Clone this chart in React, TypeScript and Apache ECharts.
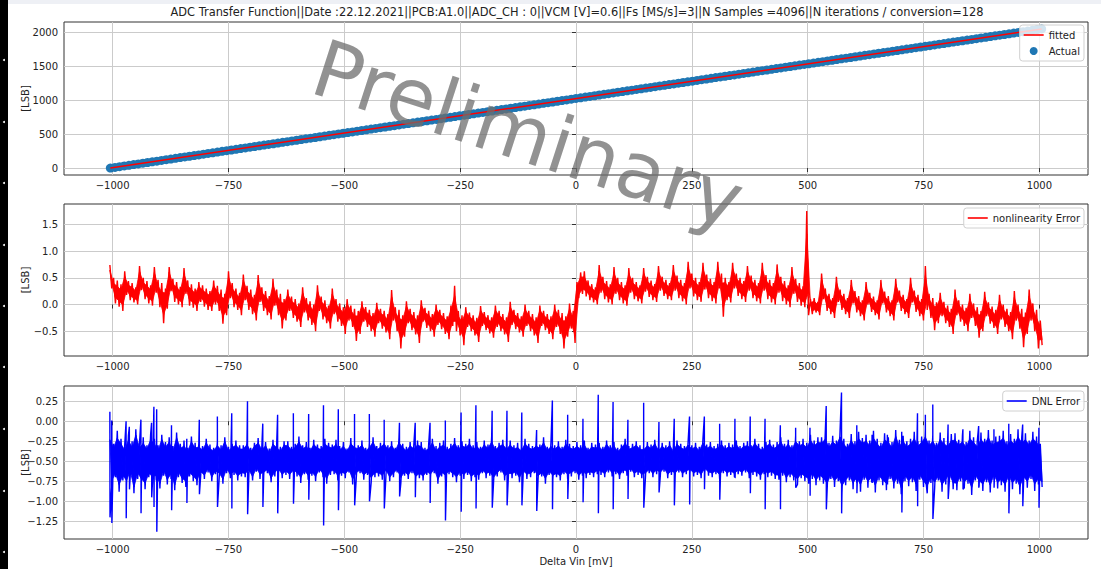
import React, { useEffect, useRef } from 'react';
import * as echarts from 'echarts';

const TITLE =
  'ADC Transfer Function||Date :22.12.2021||PCB:A1.0||ADC_CH : 0||VCM [V]=0.6||Fs [MS/s]=3||N Samples =4096||N iterations / conversion=128';

const X_TICKS = [-1000, -750, -500, -250, 0, 250, 500, 750, 1000];
const Y1_TICKS = [0, 500, 1000, 1500, 2000];
const Y2_TICKS = [-0.5, 0, 0.5, 1, 1.5];
const Y3_TICKS = [-1.25, -1, -0.75, -0.5, -0.25, 0, 0.25];

// Transfer function: measured codes sampled along Delta Vin
const ACTUAL_VIN_START = -1005;
const ACTUAL_VIN_STEP = 10.05;
const ACTUAL_CODE = [
  0, 10, 20, 31, 41, 51, 61, 72, 82, 92,
  102, 113, 123, 133, 143, 154, 164, 174, 184, 194,
  205, 215, 225, 235, 246, 256, 266, 276, 287, 297,
  307, 317, 328, 338, 348, 358, 368, 379, 389, 399,
  409, 420, 430, 440, 450, 461, 471, 481, 491, 502,
  512, 522, 532, 542, 553, 563, 573, 583, 594, 604,
  614, 624, 635, 645, 655, 665, 676, 686, 696, 706,
  716, 727, 737, 747, 757, 768, 778, 788, 798, 809,
  819, 829, 839, 850, 860, 870, 880, 890, 901, 911,
  921, 931, 942, 952, 962, 972, 983, 993, 1003, 1013,
  1024, 1034, 1044, 1054, 1064, 1075, 1085, 1095, 1105, 1116,
  1126, 1136, 1146, 1157, 1167, 1177, 1187, 1197, 1208, 1218,
  1228, 1238, 1249, 1259, 1269, 1279, 1290, 1300, 1310, 1320,
  1331, 1341, 1351, 1361, 1371, 1382, 1392, 1402, 1412, 1423,
  1433, 1443, 1453, 1464, 1474, 1484, 1494, 1505, 1515, 1525,
  1535, 1545, 1556, 1566, 1576, 1586, 1597, 1607, 1617, 1627,
  1638, 1648, 1658, 1668, 1679, 1689, 1699, 1709, 1719, 1730,
  1740, 1750, 1760, 1771, 1781, 1791, 1801, 1812, 1822, 1832,
  1842, 1853, 1863, 1873, 1883, 1893, 1904, 1914, 1924, 1934,
  1945, 1955, 1965, 1975, 1986, 1996, 2006, 2016, 2027, 2037,
  2047,
];
const FIT_VIN = [-1005, 1005];
const FIT_CODE = [0, 2047];

// Nonlinearity error: upper / lower envelope per 8 mV bin starting at -1006 mV
const BIN_START = -1006;
const BIN_STEP = 8;
const INL_HI = [
  0.74, 0.5, 0.45, 0.38, 0.62, 0.44, 0.4, 0.32, 0.72, 0.5, 0.44, 0.36, 0.7, 0.46, 0.4, 0.3,
  0.7, 0.48, 0.42, 0.33, 0.68, 0.45, 0.38, 0.3, 0.42, 0.36, 0.3, 0.25, 0.45, 0.35, 0.28, 0.2,
  0.62, 0.4, 0.3, 0.22, 0.56, 0.35, 0.28, 0.18, 0.55, 0.32, 0.25, 0.16, 0.48, 0.28, 0.2, 0.1,
  0.28, 0.15, 0.1, 0.02, 0.32, 0.12, 0.06, 0, 0.36, 0.15, 0.08, -0.02, 0.3, 0.1, 0.02, -0.05,
  0.1, -0.02, -0.08, -0.12, 0.06, -0.05, -0.1, -0.16, 0.03, -0.08, -0.12, -0.18, 0.27, -0.05, -0.1, -0.2,
  0.06, -0.08, -0.14, -0.2, 0.08, -0.06, -0.12, -0.18, 0, -0.1, -0.16, -0.22, -0.02, 0.35, -0.12, -0.2,
  -0.05, -0.15, -0.2, -0.25, -0.03, -0.14, -0.2, -0.24, -0.02, -0.12, -0.18, -0.24, 0.05, -0.1, -0.16, -0.22,
  0, -0.12, -0.18, -0.24, -0.02, -0.12, -0.18, -0.22, 0, -0.1, -0.16, -0.22, 0.02, -0.12, 0.42, 0.6,
  0.62, 0.45, 0.38, 0.32, 0.74, 0.52, 0.44, 0.38, 0.7, 0.5, 0.42, 0.36, 0.68, 0.5, 0.42, 0.36,
  0.68, 0.52, 0.45, 0.38, 0.72, 0.52, 0.46, 0.4, 0.74, 0.54, 0.46, 0.4, 0.8, 0.58, 0.5, 0.42,
  0.78, 0.56, 0.48, 0.42, 0.8, 0.58, 0.5, 0.42, 0.78, 0.58, 0.5, 0.44, 0.72, 0.54, 0.46, 0.4,
  0.78, 0.55, 0.46, 0.4, 0.75, 0.52, 0.44, 0.36, 0.7, 0.48, 0.4, 0.34, 1.75, 0.1, 0.12, 0.05,
  0.58, 0.3, 0.2, 0.12, 0.52, 0.28, 0.2, 0.12, 0.46, 0.25, 0.16, 0.08, 0.42, 0.22, 0.15, 0.08,
  0.46, 0.24, 0.16, 0.08, 0.48, 0.26, 0.18, 0.1, 0.5, 0.26, 0.18, 0.1, 0.72, 0.2, 0.12, 0.04,
  0.22, 0.05, -0.02, -0.08, 0.28, 0.08, 0, -0.06, 0.2, 0.02, -0.05, -0.12, 0.24, 0.04, -0.04, -0.1,
  0.18, 0, -0.08, -0.14, 0.25, 0, -0.08, -0.15, 0.28, 0.02, -0.1, -0.3,
];
const INL_LO = [
  0.3, 0.02, -0.04, -0.12, 0.18, 0.08, 0.04, 0, 0.27, 0.1, 0.02, -0.02, 0.22, -0.05, -0.35, -0.08,
  0.25, 0.05, 0, -0.05, 0.2, -0.02, -0.06, -0.12, 0.05, -0.04, -0.1, -0.12, 0, -0.12, -0.36, -0.2,
  0.12, -0.05, -0.1, -0.2, 0.08, -0.1, -0.18, -0.3, 0.05, -0.12, -0.2, -0.28, -0.02, -0.2, -0.45, -0.3,
  -0.12, -0.25, -0.32, -0.42, -0.15, -0.3, -0.38, -0.5, -0.12, -0.28, -0.35, -0.45, -0.18, -0.32, -0.4, -0.55,
  -0.3, -0.42, -0.68, -0.55, -0.32, -0.42, -0.5, -0.6, -0.35, -0.45, -0.52, -0.65, -0.3, -0.5, -0.82, -0.6,
  -0.35, -0.48, -0.56, -0.72, -0.32, -0.44, -0.5, -0.6, -0.38, -0.46, -0.55, -0.65, -0.4, -0.5, -0.58, -0.76,
  -0.42, -0.5, -0.58, -0.7, -0.4, -0.48, -0.54, -0.62, -0.42, -0.5, -0.56, -0.7, -0.38, -0.46, -0.52, -0.6,
  -0.4, -0.5, -0.58, -0.72, -0.4, -0.48, -0.55, -0.65, -0.42, -0.55, -0.82, -0.6, -0.45, -0.72, 0.12, 0.2,
  0.15, 0.08, 0.04, 0, 0.22, 0.1, 0.04, 0, 0.2, 0.08, 0.02, -0.02, 0.22, 0.1, 0.06, 0.02,
  0.24, 0.14, 0.08, 0.05, 0.26, 0.16, 0.1, 0.08, 0.26, 0.12, 0.06, 0, 0.3, 0.15, 0.08, 0.05,
  0.28, 0.12, 0.06, 0.02, 0.3, -0.23, 0.08, 0.04, 0.3, 0.16, 0.1, 0.05, 0.26, 0.12, 0.06, 0.02,
  0.26, 0.1, 0.04, 0, 0.22, 0.06, 0, -0.05, 0.2, 0.05, -0.02, -0.05, -0.2, -0.18, -0.15, -0.2,
  0.1, -0.12, -0.18, -0.25, 0.05, -0.1, -0.18, -0.25, 0.02, -0.15, -0.22, -0.3, 0, -0.14, -0.2, -0.28,
  0.02, -0.15, -0.22, -0.3, 0.04, -0.12, -0.18, -0.25, 0.04, -0.14, -0.22, -0.3, -0.1, -0.25, -0.48, -0.35,
  -0.22, -0.35, -0.42, -0.55, -0.2, -0.32, -0.4, -0.5, -0.25, -0.4, -0.62, -0.5, -0.22, -0.36, -0.44, -0.55,
  -0.28, -0.42, -0.5, -0.65, -0.3, -0.45, -0.8, -0.55, -0.3, -0.5, -0.82, -0.76,
];

// DNL error: core band envelope per 8 mV bin, plus the large code-transition spikes
const DNL_HI = [
  -0.15, -0.28, -0.12, -0.22, -0.3, -0.18, -0.25, -0.1, -0.27, -0.2, -0.3, -0.16,
  -0.22, -0.3, -0.17, -0.26, -0.2, -0.31, -0.14, -0.28, -0.24, -0.33, -0.19, -0.27,
  -0.27, -0.31, -0.22, -0.29, -0.33, -0.25, -0.3, -0.2, -0.32, -0.28, -0.24, -0.3,
  -0.3, -0.24, -0.33, -0.27, -0.21, -0.31, -0.26, -0.34, -0.23, -0.29, -0.32, -0.25,
  -0.25, -0.32, -0.28, -0.19, -0.3, -0.26, -0.33, -0.23, -0.29, -0.31, -0.22, -0.27,
  -0.29, -0.23, -0.31, -0.26, -0.34, -0.21, -0.28, -0.3, -0.24, -0.33, -0.27, -0.2,
  -0.31, -0.27, -0.23, -0.3, -0.25, -0.33, -0.2, -0.28, -0.32, -0.26, -0.29, -0.24,
  -0.26, -0.33, -0.29, -0.22, -0.31, -0.27, -0.24, -0.32, -0.28, -0.21, -0.3, -0.25,
  -0.28, -0.22, -0.3, -0.26, -0.32, -0.24, -0.29, -0.19, -0.31, -0.27, -0.23, -0.3,
  -0.24, -0.3, -0.27, -0.33, -0.22, -0.28, -0.31, -0.25, -0.29, -0.2, -0.32, -0.26,
  -0.3, -0.25, -0.32, -0.23, -0.28, -0.31, -0.26, -0.3, -0.24, -0.33, -0.27, -0.29,
  -0.27, -0.32, -0.24, -0.3, -0.26, -0.33, -0.29, -0.22, -0.31, -0.28, -0.25, -0.3,
  -0.31, -0.26, -0.29, -0.23, -0.32, -0.27, -0.3, -0.25, -0.33, -0.24, -0.28, -0.31,
  -0.25, -0.3, -0.27, -0.32, -0.22, -0.29, -0.26, -0.31, -0.28, -0.24, -0.3, -0.27,
  -0.29, -0.24, -0.31, -0.27, -0.25, -0.3, -0.22, -0.28, -0.32, -0.26, -0.23, -0.29,
  -0.26, -0.2, -0.28, -0.23, -0.3, -0.18, -0.25, -0.22, -0.27, -0.17, -0.24, -0.2,
  -0.2, -0.14, -0.27, -0.18, -0.24, -0.1, -0.22, -0.28, -0.16, -0.25, -0.13, -0.21,
  -0.17, -0.24, -0.12, -0.22, -0.27, -0.15, -0.2, -0.26, -0.11, -0.23, -0.18, -0.25,
  -0.22, -0.13, -0.25, -0.19, -0.1, -0.24, -0.17, -0.27, -0.14, -0.21, -0.26, -0.16,
  -0.15, -0.23, -0.18, -0.26, -0.12, -0.2, -0.25, -0.14, -0.22, -0.11, -0.24, -0.19,
  -0.18, -0.12, -0.25, -0.16, -0.22, -0.1, -0.2, -0.15, -0.24, -0.13, -0.19, -0.28,
];
const DNL_LO = [
  -0.82, -0.7, -0.88, -0.74, -0.8, -0.68, -0.9, -0.72, -0.78, -0.85, -0.7, -0.76,
  -0.74, -0.84, -0.68, -0.79, -0.72, -0.86, -0.7, -0.77, -0.82, -0.69, -0.75, -0.8,
  -0.68, -0.72, -0.64, -0.75, -0.66, -0.7, -0.78, -0.65, -0.71, -0.67, -0.74, -0.69,
  -0.7, -0.66, -0.74, -0.63, -0.72, -0.68, -0.65, -0.76, -0.69, -0.64, -0.71, -0.67,
  -0.72, -0.65, -0.69, -0.77, -0.66, -0.73, -0.68, -0.75, -0.64, -0.7, -0.78, -0.67,
  -0.66, -0.74, -0.68, -0.71, -0.64, -0.79, -0.69, -0.65, -0.73, -0.67, -0.76, -0.7,
  -0.69, -0.73, -0.66, -0.75, -0.7, -0.64, -0.77, -0.68, -0.72, -0.65, -0.74, -0.71,
  -0.74, -0.67, -0.71, -0.65, -0.78, -0.69, -0.73, -0.66, -0.7, -0.76, -0.68, -0.72,
  -0.67, -0.75, -0.7, -0.73, -0.65, -0.71, -0.68, -0.77, -0.69, -0.64, -0.74, -0.7,
  -0.71, -0.68, -0.76, -0.66, -0.72, -0.7, -0.65, -0.74, -0.69, -0.78, -0.67, -0.73,
  -0.7, -0.74, -0.66, -0.72, -0.69, -0.65, -0.73, -0.68, -0.71, -0.67, -0.7, -0.66,
  -0.67, -0.7, -0.64, -0.69, -0.66, -0.72, -0.65, -0.68, -0.63, -0.7, -0.67, -0.71,
  -0.69, -0.65, -0.7, -0.66, -0.68, -0.63, -0.71, -0.67, -0.69, -0.64, -0.7, -0.66,
  -0.65, -0.69, -0.67, -0.71, -0.64, -0.68, -0.7, -0.66, -0.72, -0.65, -0.69, -0.67,
  -0.7, -0.66, -0.68, -0.64, -0.71, -0.67, -0.69, -0.73, -0.66, -0.7, -0.68, -0.72,
  -0.73, -0.68, -0.76, -0.7, -0.74, -0.79, -0.71, -0.75, -0.78, -0.72, -0.8, -0.74,
  -0.78, -0.86, -0.72, -0.82, -0.75, -0.9, -0.8, -0.74, -0.85, -0.77, -0.88, -0.73,
  -0.83, -0.76, -0.89, -0.74, -0.8, -0.86, -0.72, -0.84, -0.78, -0.91, -0.75, -0.81,
  -0.76, -0.87, -0.73, -0.82, -0.9, -0.77, -0.84, -0.74, -0.88, -0.79, -0.72, -0.85,
  -0.86, -0.75, -0.83, -0.78, -0.92, -0.74, -0.81, -0.87, -0.76, -0.89, -0.73, -0.84,
  -0.8, -0.88, -0.74, -0.85, -0.78, -0.91, -0.76, -0.83, -0.72, -0.87, -0.79, -0.82,
];
const DNL_SPIKE_VIN = [
  -1006, -1002, -971, -964, -939, -916, -911, -905, -873, -840, -813, -774, -743, -709, -676, -644,
  -610, -577, -545, -513, -478, -446, -414, -381, -347, -315, -282, -248, -216, -181, -149, -117,
  -85, -51, -18, 15, 48, 80, 112, 146, 179, 212, 245, 277, 310, 343, 376, 408,
  441, 474, 505, 540, 573, 606, 639, 672, 703, 737, 754, 770, 803, 835, 869, 902,
  934, 964, 999,
];
const DNL_SPIKE_TOP = [
  0.12, 0.01, 0.0, -0.07, 0.02, -0.02, 0.18, 0.15, -0.05, -0.22, 0.02, 0.06, 0.1, 0.25, -0.03, 0.08,
  0.1, 0.09, 0.2, 0.15, 0.09, 0.09, 0.02, -0.02, -0.02, -0.02, 0.01, 0.11, 0.2, 0.13, 0.13, 0.11,
  -0.11, 0.26, 0.08, 0.03, 0.33, 0.24, 0.02, 0.23, -0.01, 0.03, 0.06, 0.06, -0.03, 0.03, 0.06, 0.03,
  -0.05, -0.08, -0.08, 0.19, 0.36, -0.05, -0.17, -0.17, -0.13, 0.1, 0.08, 0.21, -0.04, -0.1, -0.06, -0.1,
  -0.03, -0.04, -0.08,
];
const DNL_SPIKE_BOTTOM = [
  -1.2, -1.27, -1.21, -0.85, -1.15, -0.95, -1.07, -1.38, -1.11, -1.02, -0.91, -1.07, -1.09, -1.16, -1.07, -1.15,
  -1.03, -0.98, -1.3, -1.11, -1.05, -1.0, -1.09, -0.94, -0.95, -1.02, -1.24, -1.13, -1.09, -1.08, -1.05, -1.05,
  -1.12, -1.1, -0.97, -1.01, -1.15, -1.1, -0.97, -1.08, -0.89, -1.05, -1.04, -0.85, -0.98, -0.71, -0.9, -1.1,
  -1.1, -0.83, -0.93, -1.1, -1.15, -0.9, -0.77, -0.79, -1.14, -1.06, -0.7, -1.22, -0.97, -0.85, -0.83, -0.83,
  -1.15, -1.06, -1.08,
];

const FONT = '"DejaVu Sans", "Liberation Sans", sans-serif';
const TEXT = '#222';
const GRID_LINE = '#cbcbcb';
const PLOT_LEFT = 64;
const PLOT_RIGHT = 13;
const LINE_ICON = 'path://M0,0H20V1.6H0Z';

const uminus = (s: string) => s.replace('-', '\u2212');

function envelopeLine(hi: number[], lo: number[]): number[][] {
  const pts: number[][] = [];
  for (let i = 0; i < hi.length; i++) {
    const x = BIN_START + BIN_STEP * i;
    pts.push([x, hi[i]]);
    pts.push([x + BIN_STEP / 2, lo[i]]);
  }
  return pts;
}

function dnlLine(): number[][] {
  const pts = envelopeLine(DNL_HI, DNL_LO);
  for (let i = 0; i < DNL_SPIKE_VIN.length; i++) {
    pts.push([DNL_SPIKE_VIN[i], DNL_SPIKE_TOP[i]]);
    pts.push([DNL_SPIKE_VIN[i] + 0.3, DNL_SPIKE_BOTTOM[i]]);
  }
  pts.sort((a, b) => a[0] - b[0]);
  return pts;
}

// Dense core of the trace between the envelopes (inset keeps the ragged edges visible)
function bandSeries(axisIndex: number, hi: number[], lo: number[], color: string, inset: number) {
  return {
    type: 'custom',
    name: 'band' + axisIndex,
    xAxisIndex: axisIndex,
    yAxisIndex: axisIndex,
    silent: true,
    clip: true,
    data: hi.map((h, i) => [BIN_START + BIN_STEP * i, h, lo[i]]),
    encode: { x: 0, y: [1, 2] },
    renderItem: (params: any, api: any) => {
      const i = params.dataIndex;
      if (i >= hi.length - 1) return null;
      const x0 = BIN_START + BIN_STEP * i;
      const half = BIN_STEP / 2;
      const top = (k: number) => hi[k] - inset * (hi[k] - lo[k]);
      const bot = (k: number) => lo[k] + inset * (hi[k] - lo[k]);
      const pts = [
        api.coord([x0, top(i)]),
        api.coord([x0 + BIN_STEP, top(i + 1)]),
        api.coord([x0 + BIN_STEP + half, bot(i + 1)]),
        api.coord([x0 + half, bot(i)]),
      ];
      return {
        type: 'polygon',
        shape: { points: pts },
        style: { fill: color, stroke: color, lineWidth: 0.8 },
      };
    },
    z: 2,
  };
}

function xAxis(gridIndex: number, withName: boolean) {
  return {
    type: 'value',
    gridIndex,
    min: -1105,
    max: 1105,
    axisLine: { show: false },
    axisTick: { show: true, length: 4, customValues: X_TICKS, lineStyle: { color: '#333' } },
    axisLabel: {
      customValues: X_TICKS,
      formatter: (v: number) => uminus(String(v)),
      color: TEXT,
      fontFamily: FONT,
      fontSize: 10,
      margin: 5,
    },
    splitLine: { show: true, lineStyle: { color: GRID_LINE, width: 1 } },
    name: withName ? 'Delta Vin [mV]' : '',
    nameLocation: 'middle',
    nameGap: 17,
    nameMoveOverlap: false,
    nameTextStyle: { color: TEXT, fontFamily: FONT, fontSize: 10, verticalAlign: 'top' },
  };
}

function yAxis(gridIndex: number, min: number, max: number, ticks: number[], digits: number) {
  return {
    type: 'value',
    gridIndex,
    min,
    max,
    axisLine: { show: false },
    axisTick: { show: true, length: 4, customValues: ticks, lineStyle: { color: '#333' } },
    axisLabel: {
      customValues: ticks,
      formatter: (v: number) => uminus(v.toFixed(digits)),
      color: TEXT,
      fontFamily: FONT,
      fontSize: 10,
      margin: 6,
    },
    splitLine: { show: true, lineStyle: { color: GRID_LINE, width: 1 } },
    name: '[LSB]',
    nameLocation: 'middle',
    nameRotate: 90,
    nameGap: 34,
    nameMoveOverlap: false,
    nameTextStyle: { color: TEXT, fontFamily: FONT, fontSize: 10 },
  };
}

function legend(names: any[], top: number) {
  return {
    data: names,
    orient: 'vertical',
    right: 17,
    top,
    itemWidth: 20,
    itemHeight: 8,
    itemGap: 4,
    padding: [4, 4, 4, 4],
    backgroundColor: 'rgba(255,255,255,0.8)',
    borderColor: '#d0d0d0',
    borderWidth: 1,
    borderRadius: 3,
    textStyle: { color: TEXT, fontFamily: FONT, fontSize: 10, lineHeight: 12 },
  };
}

const DOT_Y = [60, 122, 183, 245, 306, 367, 429, 491, 552];

export default function App() {
  const ref = useRef<HTMLDivElement>(null);
  useEffect(() => {
    if (!ref.current) return;
    const chart = echarts.init(ref.current, null, { renderer: 'svg' });
    const actual = ACTUAL_CODE.map((c, i) => [ACTUAL_VIN_START + ACTUAL_VIN_STEP * i, c]);
    const fitted = FIT_VIN.map((v, i) => [v, FIT_CODE[i]]);
    const grids = [
      { top: 22, height: 153 },
      { top: 204, height: 152 },
      { top: 386, height: 153 },
    ].map((g) => ({
      ...g,
      left: PLOT_LEFT,
      right: PLOT_RIGHT,
      show: true,
      borderColor: '#333',
      borderWidth: 1,
      backgroundColor: '#fff',
      containLabel: false,
    }));
    chart.setOption({
      animation: false,
      backgroundColor: '#fff',
      title: {
        text: TITLE,
        left: 577,
        top: 6,
        padding: 0,
        textAlign: 'center',
        textStyle: { color: TEXT, fontFamily: FONT, fontSize: 11.4, fontWeight: 'normal' },
      },
      grid: grids,
      xAxis: [xAxis(0, false), xAxis(1, false), xAxis(2, true)],
      yAxis: [
        yAxis(0, -102, 2149, Y1_TICKS, 0),
        yAxis(1, -0.963, 1.88, Y2_TICKS, 1),
        yAxis(2, -1.47, 0.44, Y3_TICKS, 2),
      ],
      legend: [
        legend([{ name: 'fitted', icon: LINE_ICON }, { name: 'Actual', icon: 'circle' }], 25),
        legend([{ name: 'nonlinearity Error', icon: LINE_ICON }], 208),
        legend([{ name: 'DNL Error', icon: LINE_ICON }], 391),
      ],
      series: [
        {
          name: 'Actual',
          type: 'scatter',
          xAxisIndex: 0,
          yAxisIndex: 0,
          data: actual,
          symbolSize: 9,
          itemStyle: { color: '#1f77b4', opacity: 1 },
          z: 2,
        },
        {
          name: 'fitted',
          type: 'line',
          xAxisIndex: 0,
          yAxisIndex: 0,
          data: fitted,
          symbol: 'none',
          lineStyle: { color: '#ff0000', width: 1.5 },
          itemStyle: { color: '#ff0000' },
          z: 3,
        },
        bandSeries(1, INL_HI, INL_LO, '#ff0000', 0.22),
        {
          name: 'nonlinearity Error',
          type: 'line',
          xAxisIndex: 1,
          yAxisIndex: 1,
          data: envelopeLine(INL_HI, INL_LO),
          symbol: 'none',
          lineStyle: { color: '#ff0000', width: 1.4 },
          itemStyle: { color: '#ff0000' },
          z: 3,
        },
        bandSeries(2, DNL_HI, DNL_LO, '#0000ff', 0.12),
        {
          name: 'DNL Error',
          type: 'line',
          xAxisIndex: 2,
          yAxisIndex: 2,
          data: dnlLine(),
          symbol: 'none',
          lineStyle: { color: '#0000ff', width: 1.4 },
          itemStyle: { color: '#0000ff' },
          z: 3,
        },
      ],
      graphic: [
        { type: 'rect', shape: { x: 0, y: 0, width: 1101, height: 4 }, style: { fill: '#eef0f5' }, z: 50 },
        { type: 'rect', shape: { x: 0, y: 0, width: 8, height: 569 }, style: { fill: '#000' }, z: 50 },
        ...DOT_Y.map((y) => ({
          type: 'circle',
          shape: { cx: 4, cy: y, r: 1 },
          style: { fill: '#fff' },
          z: 51,
        })),
        {
          type: 'text',
          x: 528,
          y: 135,
          rotation: (-18 * Math.PI) / 180,
          style: {
            text: 'Preliminary',
            font: '79px "DejaVu Sans", sans-serif',
            fill: 'rgba(110,110,110,0.75)',
            align: 'center',
            verticalAlign: 'middle',
          },
          z: 100,
        },
      ],
    });
    return () => chart.dispose();
  }, []);
  return (
    <div
      ref={ref}
      style={{ position: 'fixed', left: 0, top: 0, width: 1101, height: 569 }}
    />
  );
}
